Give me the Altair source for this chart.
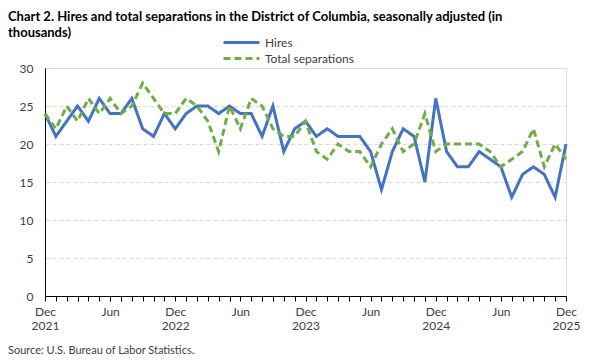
import altair as alt
import pandas as pd

# Monthly index: 0 = Dec 2021 ... 48 = Dec 2025
hires = [24, 21, 23, 25, 23, 26, 24, 24, 26, 22, 21, 24,
         22, 24, 25, 25, 24, 25, 24, 24, 21, 25, 19, 22,
         23, 21, 22, 21, 21, 21, 19, 14, 19, 22, 21, 15,
         26, 19, 17, 17, 19, 18, 17, 13, 16, 17, 16, 13,
         20]
separations = [24, 22, 25, 23, 26, 24, 26, 24, 25, 28, 26, 24,
               24, 26, 25, 23, 19, 25, 22, 26, 25, 22, 21, 21,
               23, 19, 18, 20, 19, 19, 17, 20, 22, 19, 20, 24,
               19, 20, 20, 20, 20, 19, 17, 18, 19, 22, 17, 20,
               18]
series_names = ["Hires", "Total separations"]
series_colors = ["#4472C4", "#70AD47"]
y_ticks = [0, 5, 10, 15, 20, 25, 30]
title_line1 = "Chart 2. Hires and total separations in the District of Columbia, seasonally adjusted (in"
title_line2 = "thousands)"
source_text = "Source: U.S. Bureau of Labor Statistics."

FONT = "Lato"

rows = []
for i, v in enumerate(hires):
    rows.append({"m": i, "value": v, "series": series_names[0]})
for i, v in enumerate(separations):
    rows.append({"m": i, "value": v, "series": series_names[1]})
df = pd.DataFrame(rows)

label_expr = ("datum.value % 12 == 0 ? ['Dec', toString(2021 + datum.value / 12)] : "
              "(datum.value % 6 == 0 ? 'Jun' : '')")

legend_cfg = dict(title=None, orient="none", legendX=189, legendY=-33,
                  symbolType="M-3,0H3", symbolSize=144, symbolStrokeWidth=3,
                  labelFont=FONT, labelFontSize=12, labelFontWeight="normal",
                  labelColor="#404040", rowPadding=2, labelOffset=16)

lines = alt.Chart(df).mark_line(strokeWidth=3).encode(
    x=alt.X("m:Q", scale=alt.Scale(domain=[0, 48], nice=False, zero=False),
            axis=alt.Axis(title=None, values=list(range(49)), labelExpr=label_expr,
                          tickSize=5, tickColor="black", domainColor="black", domainWidth=1,
                          labelOverlap=False, grid=False, labelFont=FONT, labelFontSize=12,
                          labelColor="#404040", labelPadding=5, labelLineHeight=14,
                          labelFlush=False, labelBound=False)),
    y=alt.Y("value:Q", scale=alt.Scale(domain=[0, 30], nice=False),
            axis=alt.Axis(title=None, values=y_ticks, tickSize=0, domainColor="black",
                          gridColor="#d9d9d9", gridDash=[4, 3], labelFont=FONT,
                          labelFontSize=12, labelColor="#404040", labelPadding=12)),
    color=alt.Color("series:N", scale=alt.Scale(domain=series_names, range=series_colors),
                    legend=alt.Legend(**legend_cfg)),
    strokeDash=alt.StrokeDash("series:N", scale=alt.Scale(domain=series_names, range=[[1, 0], [7, 4]]),
                              legend=alt.Legend(**legend_cfg)),
)


def text_layer(txt, y, size, weight, color):
    return alt.Chart(pd.DataFrame({"t": [txt]})).mark_text(
        align="left", baseline="middle", font=FONT, fontSize=size, fontWeight=weight, color=color
    ).encode(x=alt.value(-37), y=alt.value(y), text="t:N")


title1 = text_layer(title_line1, -51, 13, "bold", "black")
title2 = text_layer(title_line2, -35, 13, "bold", "black")
source = text_layer(source_text, 283, 11, "normal", "#404040")

chart = alt.layer(lines, title1, title2, source).properties(
    width=521, height=228,
    autosize=alt.AutoSizeParams(type="none"),
    padding={"left": 37, "top": 60, "right": 26, "bottom": 62},
).configure_view(stroke="#d9d9d9")

chart.save("out.html", embed_options={"renderer": "svg", "actions": False})
